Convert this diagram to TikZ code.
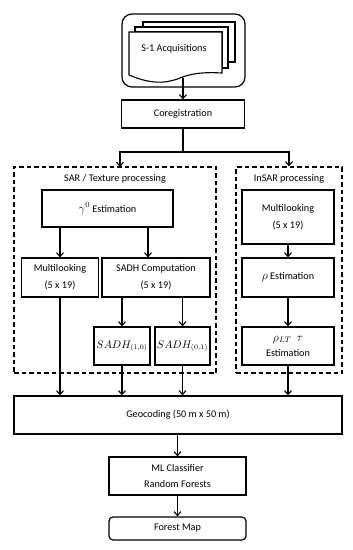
\documentclass[tikz,border=0pt]{standalone}
\usepackage{fontspec}
\setmainfont{Carlito}
\usetikzlibrary{arrows.meta}
\begin{document}
\begin{tikzpicture}[x=1pt,y=-1pt,
  every node/.style={font=\fontsize{10.2}{17}\selectfont},
  box/.style={draw,line width=1.2pt,fill=white,inner sep=0pt,align=center},
  grp/.style={draw,line width=1.2pt,dash pattern=on 4.5pt off 3pt,inner sep=0pt},
  doc/.style={draw,line width=1.1pt,fill=white},
  arr/.style={line width=1.1pt,-{Straight Barb[length=4pt,width=7pt,line width=1.1pt]}},
  ln/.style={line width=1.1pt}]
\useasboundingbox (0,0) rectangle (353,550);
% top document stack
\node[draw,line width=1.2pt,rounded corners=10pt,minimum width=123pt,minimum height=73pt,inner sep=0pt] (acqbox) at (183.5,50.5) {};
\draw[doc] (143,22) -- (235,22) -- (235,62) -- (228,62) -- (228,27) -- (143,27) -- cycle;
\draw[doc] (135,27) -- (228,27) -- (228,68) -- (222,68) -- (222,32) -- (135,32) -- cycle;
\draw[doc] (129,32) -- (222,32) -- (222,73) .. controls (205,72) and (192,73) .. (180,78) .. controls (165,84) and (150,84) .. (129,75) -- cycle;
\node (acq) at (174,49) {S-1 Acquisitions};
\coordinate (docbot) at (183,77.5);
% main boxes
\node[box,minimum width=123pt,minimum height=28pt] (coreg) at (183,114) {Coregistration};
\node[grp,minimum width=202pt,minimum height=206pt] (sarbox) at (115,270) {};
\node[grp,minimum width=106pt,minimum height=206pt] (insarbox) at (289,270) {};
\node (sarlbl) at (115,179) {SAR / Texture processing};
\node (insarlbl) at (289,179) {InSAR processing};
\node[box,minimum width=131pt,minimum height=37pt] (gam) at (107.5,208.5) {{\fontsize{11.5}{12}\selectfont$\gamma^0$} Estimation};
\node[box,minimum width=77pt,minimum height=39pt] (mlL) at (60,277.5) {Multilooking\\(5 x 19)};
\node[box,minimum width=108pt,minimum height=39pt] (sadh) at (156,277.5) {SADH Computation\\(5 x 19)};
\node[box,minimum width=92pt,minimum height=54pt] (mlR) at (288,217) {Multilooking\\(5 x 19)};
\node[box,minimum width=92pt,minimum height=39pt] (rho) at (288,277.5) {{\fontsize{11.5}{12}\selectfont$\rho$} Estimation};
\node[box,minimum width=92pt,minimum height=38pt,font=\fontsize{10.2}{15}\selectfont] (rlt) at (288,346) {{\fontsize{11.5}{12}\selectfont$\rho_{LT}\ \ \tau$}\\Estimation};
\node[box,minimum width=56pt,minimum height=38pt,font=\fontsize{10.6}{13}\selectfont] (s10) at (122,346) {$SADH_{(1,0)}$};
\node[box,minimum width=55pt,minimum height=38pt,font=\fontsize{10.6}{13}\selectfont] (s01) at (182.5,346) {$SADH_{(0,1)}$};
\node[box,minimum width=328pt,minimum height=38pt] (geo) at (178,415) {Geocoding (50 m x 50 m)};
\node[box,minimum width=137pt,minimum height=38pt,font=\fontsize{10.2}{16}\selectfont] (ml) at (177.5,476) {ML Classifier\\Random Forests};
\node[box,rounded corners=4pt,minimum width=137pt,minimum height=23pt] (fm) at (177.5,528.5) {Forest Map};
% connectors
\draw[arr] (docbot) -- (coreg.north -| docbot);
\coordinate (split) at (183,152);
\coordinate (sarin) at (120,167);
\draw[ln] (coreg.south -| split) -- (split);
\draw[arr] (split) -| (sarin);
\draw[arr] (split) -| (insarbox.north);
\coordinate (c148) at (148,0);
\draw[arr] (gam.south -| mlL) -- (mlL.north);
\draw[arr] (gam.south -| c148) -- (sadh.north -| c148);
\draw[arr] (mlR) -- (rho);
\draw[arr] (rho) -- (rlt);
\draw[arr] (sadh.south -| s10) -- (s10);
\draw[arr] (sadh.south -| s01) -- (s01);
\draw[arr] (mlL) -- (geo.north -| mlL);
\draw[arr] (s10) -- (geo.north -| s10);
\draw[arr] (s01) -- (geo.north -| s01);
\draw[arr] (rlt) -- (geo.north -| rlt);
\draw[arr] (geo.south -| ml) -- (ml);
\draw[arr] (ml) -- (fm);
\end{tikzpicture}
\end{document}
